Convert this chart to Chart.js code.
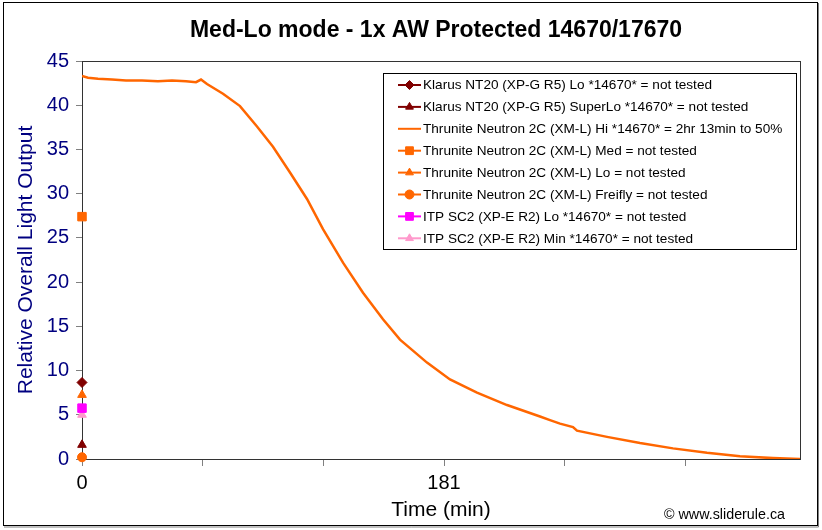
<!DOCTYPE html>
<html lang="en">
<head>
<meta charset="UTF-8">
<title>Med-Lo mode - 1x AW Protected 14670/17670</title>
<script src="https://cdn.jsdelivr.net/npm/chart.js"></script>
<style>
  body { margin: 0; background: #fff; }
  #wrap { width: 822px; height: 530px; }
</style>
</head>
<body>
<div id="wrap"><canvas id="chart" width="822" height="530"></canvas></div>
<script>
const chartTitle = "Med-Lo mode - 1x AW Protected 14670/17670";
const xTitle = "Time (min)";
const yTitle = "Relative Overall Light Output";
const credit = "\u00A9 www.sliderule.ca";

const seriesNames = [
  "Klarus NT20 (XP-G R5) Lo *14670* = not tested",
  "Klarus NT20 (XP-G R5) SuperLo *14670* = not tested",
  "Thrunite Neutron 2C (XM-L) Hi *14670* = 2hr 13min to 50%",
  "Thrunite Neutron 2C (XM-L) Med = not tested",
  "Thrunite Neutron 2C (XM-L) Lo = not tested",
  "Thrunite Neutron 2C (XM-L) Freifly = not tested",
  "ITP SC2 (XP-E R2) Lo *14670* = not tested",
  "ITP SC2 (XP-E R2) Min *14670* = not tested"
];
const seriesColors = ["#800000", "#800000", "#FF6600", "#FF6600", "#FF6600", "#FF6600", "#FF00FF", "#FF99CC"];
const seriesMarkers = ["rectRot", "triangle", null, "rect", "triangle", "circle", "rect", "triangle"];
// single readings at t = 0 (null = the runtime series)
const startValues = [8.65, 1.6, null, 27.4, 7.25, 0.2, 5.75, 5.0];

// Thrunite Hi runtime
const timeMin = [0, 3, 8, 15, 22, 30, 38, 45, 52, 57, 59.5, 62.5, 70.5, 79, 87.5, 95.5, 104, 112.5, 120.5, 130.5,
  140.5, 150.5, 159, 172.5, 184, 197.5, 212.5, 229, 234, 239, 245.5, 247.5, 262.5, 279, 295.5, 312.5, 329, 345.5, 359];
const hiOutput = [43.3, 43.1, 43.0, 42.9, 42.8, 42.8, 42.7, 42.8, 42.7, 42.6, 42.9, 42.4, 41.3, 39.9, 37.6, 35.3, 32.4, 29.4, 26.0, 22.2,
  18.8, 15.8, 13.5, 10.9, 9.0, 7.5, 6.1, 4.8, 4.4, 4.0, 3.6, 3.2, 2.5, 1.8, 1.2, 0.7, 0.3, 0.1, 0.0];

const xTickValues = [0, 60.33, 120.67, 181, 241.33, 301.67];
const xTickLabels = ["0", "", "", "181", "", ""];

const FONT = "Arial, 'Liberation Sans', sans-serif";

const datasets = seriesNames.map((name, i) => {
  if (startValues[i] === null) {
    return {
      label: name,
      data: timeMin.map((t, k) => ({ x: t, y: hiOutput[k] })),
      borderColor: seriesColors[i],
      borderWidth: 2.5,
      pointRadius: 0,
      showLine: true,
      tension: 0
    };
  }
  return {
    label: name,
    data: [{ x: 0, y: startValues[i] }],
    showLine: false,
    pointStyle: seriesMarkers[i],
    pointRadius: seriesMarkers[i] === "rect" ? 6 : (seriesMarkers[i] === "circle" ? 4.5 : 5),
    backgroundColor: seriesColors[i],
    borderColor: seriesColors[i],
    borderWidth: 1,
    clip: false
  };
});

const decor = {
  id: "decor",
  beforeDraw(chart) {
    const ctx = chart.ctx;
    ctx.save();
    ctx.fillStyle = "#fff";
    ctx.fillRect(0, 0, chart.width, chart.height);
    ctx.strokeStyle = "#000";
    ctx.lineWidth = 1;
    ctx.strokeRect(3.5, 2.5, 814, 523);
    ctx.strokeStyle = "#808080";
    ctx.beginPath();
    ctx.moveTo(818.5, 3); ctx.lineTo(818.5, 527); ctx.lineTo(4, 527);
    ctx.stroke();
    ctx.restore();
  },
  beforeDatasetsDraw(chart) {
    const { ctx, chartArea: a } = chart;
    ctx.save();
    ctx.strokeStyle = "#333";
    ctx.lineWidth = 1;
    ctx.strokeRect(Math.round(a.left) + 0.5, Math.round(a.top) + 0.5, a.right - a.left, a.bottom - a.top);
    ctx.restore();
  },
  afterDraw(chart) {
    const ctx = chart.ctx;
    ctx.save();
    // title
    ctx.fillStyle = "#000";
    ctx.font = "bold 23px " + FONT;
    ctx.textAlign = "center";
    ctx.textBaseline = "middle";
    ctx.fillText(chartTitle, 436, 31);

    // legend
    const bx = 383.5, by = 73.5, bw = 413, bh = 176;
    ctx.fillStyle = "#fff";
    ctx.fillRect(bx, by, bw, bh);
    ctx.strokeStyle = "#000";
    ctx.lineWidth = 1;
    ctx.strokeRect(bx, by, bw, bh);
    ctx.font = "13.6px " + FONT;
    ctx.textAlign = "left";
    ctx.textBaseline = "middle";
    seriesNames.forEach((name, i) => {
      const y = 85 + i * 21.9;
      const c = seriesColors[i];
      ctx.strokeStyle = c;
      ctx.fillStyle = c;
      ctx.lineWidth = 2;
      ctx.beginPath();
      ctx.moveTo(398, y); ctx.lineTo(421, y);
      ctx.stroke();
      if (seriesMarkers[i]) {
        ctx.lineWidth = 1;
        Chart.helpers.drawPoint(ctx, {
          pointStyle: seriesMarkers[i],
          radius: seriesMarkers[i] === "rect" ? 5.5 : 4.5,
          rotation: 0,
          borderWidth: 1
        }, 409.5, y);
      }
      ctx.fillStyle = "#000";
      ctx.fillText(name, 423, y + 0.5);
    });

    // credit
    ctx.font = "14.3px " + FONT;
    ctx.textAlign = "right";
    ctx.fillText(credit, 785, 515);
    ctx.restore();
  }
};

new Chart(document.getElementById("chart"), {
  type: "scatter",
  data: { datasets },
  options: {
    responsive: false,
    animation: false,
    layout: { padding: { top: 61, right: 22, left: 0, bottom: 0 } },
    plugins: { legend: { display: false }, tooltip: { enabled: false }, title: { display: false } },
    scales: {
      x: {
        type: "linear",
        min: 0,
        max: 359,
        afterBuildTicks: s => { s.ticks = xTickValues.map(v => ({ value: v })); },
        afterFit: s => { s.height = 71; },
        ticks: {
          autoSkip: false,
          maxRotation: 0,
          color: "#000",
          font: { family: FONT, size: 20 },
          padding: 5,
          callback: (v, i) => xTickLabels[i]
        },
        grid: { drawOnChartArea: false, drawTicks: true, tickLength: 7, color: "#808080" },
        border: { display: true, color: "#333" },
        title: { display: true, text: xTitle, color: "#000", font: { family: FONT, size: 21 }, padding: { top: 0, bottom: 7 } }
      },
      y: {
        min: 0,
        max: 45,
        afterFit: s => { s.width = 82; },
        ticks: { stepSize: 5, color: "#000080", font: { family: FONT, size: 20 }, padding: 7 },
        grid: { drawOnChartArea: false, drawTicks: true, tickLength: 6, color: "#808080" },
        border: { display: true, color: "#333" },
        title: { display: true, text: yTitle, color: "#000080", font: { family: FONT, size: 21 }, padding: { top: 14, bottom: 0 } }
      }
    }
  },
  plugins: [decor]
});
</script>
</body>
</html>
